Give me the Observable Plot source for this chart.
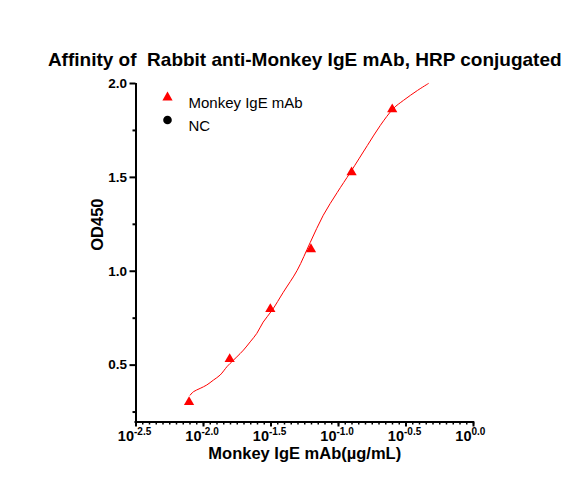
<!DOCTYPE html>
<html>
<head>
<meta charset="utf-8">
<script src="https://cdn.jsdelivr.net/npm/d3@7"></script>
<script src="https://cdn.jsdelivr.net/npm/@observablehq/plot@0.6"></script>
<style>
  html, body { margin: 0; padding: 0; background: #fff; overflow: hidden; }
  #chart { width: 588px; height: 496px; overflow: hidden; }
  #chart svg { display: block; max-width: none !important; width: 588px; height: 496px; }
</style>
</head>
<body>
<div id="chart"></div>
<script>
// Measured points (log10 concentration µg/mL, OD450)
const pointLogConc = [-2.107, -1.806, -1.505, -1.204, -0.903, -0.602];
const pointOD = [0.303, 0.532, 0.798, 1.117, 1.527, 1.862];

// Fitted curve
const curveLogConc = [-2.099, -2.075, -2.025, -1.976, -1.927, -1.877, -1.827, -1.803, -1.753, -1.704, -1.654, -1.605, -1.558, -1.491, -1.409, -1.306, -1.209, -1.113, -1.009, -0.912, -0.786, -0.690, -0.593, -0.519, -0.415, -0.334];
const curveOD = [0.340, 0.358, 0.376, 0.394, 0.420, 0.447, 0.491, 0.509, 0.544, 0.580, 0.624, 0.669, 0.729, 0.793, 0.888, 1.005, 1.154, 1.298, 1.420, 1.527, 1.670, 1.777, 1.867, 1.910, 1.963, 2.000];

// Axes
const xMajorTicks = [-2.5, -2.0, -1.5, -1.0, -0.5, 0.0];
const xTickExponents = ["-2.5", "-2.0", "-1.5", "-1.0", "-0.5", "0.0"];
const xMinorTicks = d3.range(0, 51).map(i => -2.5 + i * 0.05);
const yMajorTicks = [0.5, 1.0, 1.5, 2.0];
const yMinorTicks = [0.25, 0.75, 1.25, 1.75];
const xDomain = [-2.5, 0];
const yDomain = [0.197, 2.0];

const seriesNames = ["Monkey IgE mAb", "NC"];
const titleText = "Affinity of  Rabbit anti-Monkey IgE mAb, HRP conjugated";
const xLabel = "Monkey IgE mAb(µg/mL)";
const yLabel = "OD450";

const points = pointLogConc.map((x, i) => ({x, y: pointOD[i]}));
const curve = curveLogConc.map((x, i) => ({x, y: curveOD[i]}));
const xTicks = xMajorTicks.map((x, i) => ({x, e: xTickExponents[i]}));

const red = "#ff0000";
const font = "'Liberation Sans', Arial, sans-serif";

const plot = Plot.plot({
  width: 588,
  height: 496,
  marginLeft: 135.5,
  marginRight: 115,
  marginTop: 83,
  marginBottom: 74.5,
  style: {fontFamily: font},
  x: {type: "linear", domain: xDomain, axis: null},
  y: {type: "linear", domain: yDomain, axis: null},
  marks: [
    // Y axis ticks
    Plot.axisY({ticks: yMinorTicks, tickSize: 3, text: null, strokeWidth: 2, stroke: "#000", label: null}),
    Plot.axisY({ticks: yMajorTicks, tickSize: 6, tickPadding: 3, tickFormat: d3.format(".1f"),
      fontSize: 13.5, fontWeight: "bold", strokeWidth: 2, stroke: "#000", fill: "#000", label: null}),
    // X axis ticks
    Plot.axisX({ticks: xMinorTicks, tickSize: 3, text: null, strokeWidth: 1.5, stroke: "#000", label: null}),
    Plot.axisX({ticks: xMajorTicks, tickSize: 5, text: null, strokeWidth: 2, stroke: "#000", label: null}),
    // axis lines
    Plot.ruleX([xDomain[0]], {y1: yDomain[0], y2: yDomain[1], strokeWidth: 2, stroke: "#000"}),
    Plot.ruleY([yDomain[0]], {x1: xDomain[0], x2: xDomain[1], strokeWidth: 2, stroke: "#000", strokeLinecap: "square"}),
    // X tick labels 10^e
    Plot.text(xTicks, {x: "x", y: () => yDomain[0], text: () => "10", dx: -2, dy: 14.8, textAnchor: "end",
      fontSize: 14.5, fontWeight: "bold", fill: "#000"}),
    Plot.text(xTicks, {x: "x", y: () => yDomain[0], text: "e", dx: -2, dy: 10, textAnchor: "start",
      fontSize: 10, fontWeight: "bold", fill: "#000"}),
    // curve and points
    Plot.line(curve, {x: "x", y: "y", stroke: red, strokeWidth: 1, curve: "catmull-rom"}),
    Plot.dot(points, {x: "x", y: "y", symbol: "triangle", r: 3.8, fill: red, stroke: "none"}),
    // legend
    Plot.dot([seriesNames[0]], {frameAnchor: "top-left", dx: 31.5, dy: 14, symbol: "triangle", r: 3.8, fill: red}),
    Plot.dot([seriesNames[1]], {frameAnchor: "top-left", dx: 31.5, dy: 36.5, symbol: "circle", r: 4.3, fill: "#000"}),
    Plot.text([seriesNames[0]], {frameAnchor: "top-left", dx: 52.5, dy: 13.6, text: d => d, textAnchor: "start", fontSize: 15, fill: "#000"}),
    Plot.text([seriesNames[1]], {frameAnchor: "top-left", dx: 52.5, dy: 36.5, text: d => d, textAnchor: "start", fontSize: 15, fill: "#000"}),
    // title & labels
    Plot.text([titleText], {frameAnchor: "top", dy: -31, text: d => d, fontSize: 19, fontWeight: "bold", fill: "#000"}),
    Plot.text([yLabel], {frameAnchor: "left", dx: -38.5, dy: -2, rotate: -90, text: d => d, fontSize: 16.5, fontWeight: "bold", fill: "#000"}),
    Plot.text([xLabel], {frameAnchor: "bottom", dy: 37, text: d => d, fontSize: 16.5, fontWeight: "bold", fill: "#000"})
  ]
});
document.getElementById("chart").appendChild(plot);
</script>
</body>
</html>
